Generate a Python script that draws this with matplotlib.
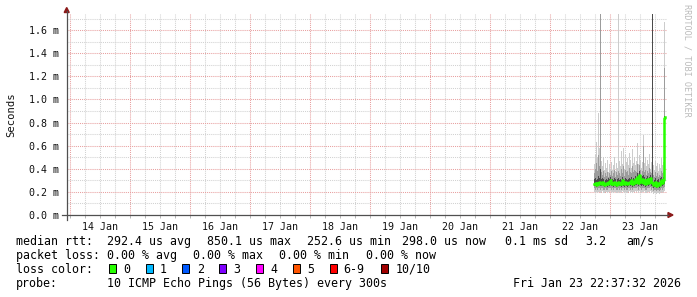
import numpy as np
import pandas as pd
import matplotlib
matplotlib.use("Agg")
import matplotlib.pyplot as plt
import matplotlib.dates as mdates
from matplotlib.patches import Rectangle, Polygon
from matplotlib.lines import Line2D
from matplotlib.ticker import MultipleLocator, FuncFormatter

# ---------------- data (values in ms, one column per 24 min) ----------------
t_first = "2026-01-22 17:45"
t_end = "2026-01-23 22:37:32"

median = [0.27, 0.28, 0.26, 0.28, 0.27, 0.29, 0.28, 0.27, 0.29, 0.28, 0.26, 0.27,
          0.28, 0.27, 0.29, 0.28, 0.30, 0.27, 0.28, 0.27, 0.29, 0.28, 0.26, 0.28,
          0.29, 0.27, 0.28, 0.27, 0.30, 0.28, 0.27, 0.29, 0.28, 0.27, 0.28, 0.29,
          0.28, 0.30, 0.27, 0.29, 0.28, 0.31, 0.29, 0.33, 0.28, 0.35, 0.30, 0.29,
          0.31, 0.28, 0.30, 0.27, 0.29, 0.31, 0.28, 0.30, 0.32, 0.29, 0.28, 0.26,
          0.27, 0.29, 0.25, 0.27, 0.28, 0.26, 0.29, 0.30, 0.28, 0.30, 0.84, 0.85]

hi1 = [0.44, 0.52, 0.63, 0.50, 0.88, 0.58, 2.00, 0.47, 0.42, 0.50, 0.39, 0.45,
       0.41, 0.48, 0.37, 0.44, 0.40, 0.46, 0.39, 0.43, 0.50, 0.38, 0.45, 0.41,
       2.00, 0.47, 0.42, 0.55, 0.44, 0.58, 0.40, 0.52, 0.46, 0.49, 0.43, 0.54,
       0.48, 0.41, 0.57, 0.45, 0.50, 0.43, 0.47, 0.62, 0.44, 0.52, 0.48, 0.41,
       0.46, 0.69, 0.45, 0.50, 0.42, 0.48, 0.44, 0.53, 0.40, 0.46, 2.00, 0.43,
       0.39, 0.47, 0.42, 0.45, 0.38, 0.44, 0.41, 0.49, 0.43, 0.46, 1.67, 1.67]

hi2 = [0.36, 0.40, 0.45, 0.38, 0.52, 0.42, 2.00, 0.37, 0.35, 0.38, 0.33, 0.36,
       0.34, 0.37, 0.33, 0.36, 0.35, 0.38, 0.34, 0.36, 0.39, 0.33, 0.37, 0.35,
       0.38, 0.36, 0.34, 0.40, 0.36, 0.42, 0.34, 0.39, 0.37, 0.38, 0.35, 0.41,
       0.37, 0.36, 0.42, 0.37, 0.39, 0.38, 0.37, 0.44, 0.36, 0.43, 0.39, 0.35,
       0.38, 0.60, 0.37, 0.39, 0.35, 0.38, 0.36, 0.41, 0.37, 0.36, 2.00, 0.35,
       0.33, 0.37, 0.34, 0.36, 0.33, 0.35, 0.34, 0.38, 0.36, 0.37, 1.27, 1.27]

hi3 = [0.31, 0.32, 0.30, 0.31, 0.34, 0.32, 0.40, 0.31, 0.32, 0.31, 0.29, 0.30,
       0.31, 0.30, 0.32, 0.31, 0.33, 0.30, 0.31, 0.30, 0.32, 0.31, 0.29, 0.31,
       0.32, 0.30, 0.31, 0.30, 0.33, 0.31, 0.30, 0.32, 0.31, 0.30, 0.31, 0.32,
       0.31, 0.33, 0.30, 0.32, 0.31, 0.34, 0.32, 0.36, 0.31, 0.38, 0.33, 0.32,
       0.34, 0.35, 0.33, 0.30, 0.32, 0.34, 0.31, 0.33, 0.35, 0.32, 2.00, 0.29,
       0.30, 0.32, 0.28, 0.30, 0.31, 0.29, 0.32, 0.33, 0.31, 0.33, 0.86, 0.86]

lo3 = [0.25, 0.25, 0.24, 0.25, 0.25, 0.26, 0.25, 0.25, 0.26, 0.25, 0.24, 0.25,
       0.25, 0.24, 0.26, 0.25, 0.26, 0.25, 0.25, 0.24, 0.26, 0.25, 0.24, 0.25,
       0.26, 0.25, 0.25, 0.24, 0.26, 0.25, 0.24, 0.26, 0.25, 0.24, 0.25, 0.26,
       0.25, 0.26, 0.24, 0.26, 0.25, 0.26, 0.26, 0.27, 0.25, 0.27, 0.26, 0.25,
       0.26, 0.25, 0.26, 0.24, 0.25, 0.26, 0.25, 0.26, 0.27, 0.25, 0.25, 0.23,
       0.24, 0.25, 0.23, 0.24, 0.25, 0.23, 0.25, 0.26, 0.25, 0.26, 0.27, 0.27]

lo2 = [0.23, 0.22, 0.23, 0.22, 0.23, 0.23, 0.22, 0.23, 0.23, 0.22, 0.22, 0.23,
       0.22, 0.22, 0.23, 0.23, 0.23, 0.22, 0.23, 0.22, 0.23, 0.23, 0.22, 0.22,
       0.23, 0.22, 0.23, 0.22, 0.23, 0.23, 0.22, 0.23, 0.22, 0.22, 0.23, 0.23,
       0.22, 0.23, 0.22, 0.23, 0.23, 0.23, 0.23, 0.24, 0.22, 0.24, 0.23, 0.22,
       0.23, 0.23, 0.23, 0.22, 0.22, 0.23, 0.23, 0.23, 0.24, 0.22, 0.23, 0.21,
       0.22, 0.22, 0.21, 0.22, 0.22, 0.21, 0.22, 0.23, 0.22, 0.23, 0.24, 0.24]

lo1 = [0.20, 0.19, 0.20, 0.19, 0.20, 0.20, 0.19, 0.20, 0.21, 0.19, 0.19, 0.20,
       0.20, 0.19, 0.20, 0.20, 0.21, 0.19, 0.20, 0.19, 0.20, 0.20, 0.19, 0.19,
       0.20, 0.19, 0.20, 0.19, 0.21, 0.20, 0.19, 0.20, 0.19, 0.19, 0.20, 0.21,
       0.19, 0.20, 0.19, 0.20, 0.20, 0.21, 0.20, 0.21, 0.19, 0.21, 0.20, 0.19,
       0.20, 0.20, 0.21, 0.19, 0.19, 0.20, 0.20, 0.20, 0.21, 0.19, 0.20, 0.18,
       0.19, 0.19, 0.18, 0.19, 0.19, 0.18, 0.19, 0.20, 0.19, 0.20, 0.21, 0.21]

y_ticks = [0.0, 0.2, 0.4, 0.6, 0.8, 1.0, 1.2, 1.4, 1.6]
y_max = 1.74

legend_rows = [
    [("median rtt:", 16), ("292.4 us avg", 107), ("850.1 us max", 207),
     ("252.6 us min", 307), ("298.0 us now", 402), ("0.1 ms sd", 505),
     ("3.2", 585), ("am/s", 626)],
    [("packet loss:", 16), ("0.00 % avg", 107), ("0.00 % max", 193),
     ("0.00 % min", 279), ("0.00 % now", 366)],
    [("loss color:", 16)],
    [("probe:", 16), ("10 ICMP Echo Pings (56 Bytes) every 300s", 107),
     ("Fri Jan 23 22:37:32 2026", 513)],
]
loss_labels = ["0", "1", "2", "3", "4", "5", "6-9", "10/10"]
loss_colors = ["#26ff00", "#00b8ff", "#0059ff", "#7e00ff", "#ff00ff",
               "#ff5500", "#ff0000", "#a00000"]
loss_box_x = [109, 146, 182, 219, 256, 293, 330, 381]
loss_text_x = [123, 160, 197, 233, 270, 307, 343, 396]

# ---------------- figure ----------------
W, H = 697, 297
MONO = "DejaVu Sans Mono"
plt.rcParams["font.family"] = [MONO]

fig = plt.figure(figsize=(W / 100, H / 100), dpi=100)
fig.patch.set_facecolor("white")


def fx(px):
    return px / W


def fy(py):
    return 1 - py / H


ax = fig.add_axes([fx(66.5), fy(215), 600 / W, 201 / H])
ax.set_facecolor("white")

times = pd.date_range(t_first, periods=len(median), freq="24min")
x = mdates.date2num(times.to_pydatetime())
end = pd.Timestamp(t_end)
start = end - pd.Timedelta(days=10)
ax.set_xlim(mdates.date2num(start.to_pydatetime()), mdates.date2num(end.to_pydatetime()))
ax.set_ylim(0, y_max)

layers = [(lo1, hi1, "#cccccc"), (lo2, hi2, "#9c9c9c"), (lo3, hi3, "#4a4a4a")]
for lo, hi, col in layers:
    ax.fill_between(x, lo, hi, step="mid", color=col, linewidth=0, zorder=3)

ax.plot(x, median, color="#26ff00", lw=1.8, drawstyle="steps-mid", zorder=5)

# grid
dots = (0, (1, 1))
ax.xaxis.set_major_locator(mdates.DayLocator())
ax.xaxis.set_minor_locator(mdates.HourLocator(byhour=[6, 12, 18]))
ax.xaxis.set_major_formatter(FuncFormatter(lambda v, p: ""))
ax.xaxis.set_minor_formatter(FuncFormatter(
    lambda v, p: mdates.num2date(v).strftime("%d %b") if mdates.num2date(v).hour == 12 else ""))
ax.set_yticks(y_ticks)
ax.yaxis.set_minor_locator(MultipleLocator(0.1))
ax.set_yticklabels([f"{v:.1f} m" for v in y_ticks])
ax.grid(which="major", color="#e8a0a0", linestyle=dots, lw=0.75, zorder=0)
ax.grid(which="minor", color="#d2d2d2", linestyle=dots, lw=0.75, zorder=0)
ax.set_axisbelow(True)

ax.tick_params(axis="x", which="both", length=2, width=0.6, color="#aaaaaa",
               labelsize=7.2, pad=3, labelcolor="#111111")
ax.tick_params(axis="y", which="both", length=0, labelsize=7.2, pad=5.5,
               labelcolor="#111111")
for s in ax.spines.values():
    s.set_visible(False)

# axis lines with arrows
axcol = "#505050"
fig.add_artist(Line2D([fx(66.7), fx(66.7)], [fy(220), fy(11)], color=axcol, lw=0.9))
fig.add_artist(Line2D([fx(62), fx(668)], [fy(215), fy(215)], color=axcol, lw=0.9))
arr = "#8b1a1a"
fig.add_artist(Polygon([[fx(64.2), fy(12.5)], [fx(69.2), fy(12.5)], [fx(66.7), fy(7.5)]],
                       closed=True, color=arr, transform=fig.transFigure))
fig.add_artist(Polygon([[fx(668), fy(212.5)], [fx(668), fy(217.5)], [fx(673), fy(215)]],
                       closed=True, color=arr, transform=fig.transFigure))

# labels
fig.text(fx(11), fy(115), "Seconds", rotation=90, ha="center", va="center",
         fontsize=7.6, color="#111111")
fig.text(fx(687.5), fy(4.5), "RRDTOOL / TOBI OETIKER", rotation=270, ha="center",
         va="top", fontsize=6.1, color="#bbbbbb")

baselines = [245, 259, 273, 287]
for row, base in zip(legend_rows, baselines):
    for txt, px in row:
        fig.text(fx(px), fy(base), txt, ha="left", va="baseline",
                 fontsize=8.4, color="#000000")

for lbl, col, bx, tx in zip(loss_labels, loss_colors, loss_box_x, loss_text_x):
    fig.add_artist(Rectangle((fx(bx), fy(273.3)), 7.3 / W, 9 / H, facecolor=col,
                             edgecolor="black", lw=0.7, transform=fig.transFigure))
    fig.text(fx(tx), fy(273), lbl, ha="left", va="baseline", fontsize=8.4,
             color="#000000")

fig.savefig("out.png", dpi=100, facecolor="white")
